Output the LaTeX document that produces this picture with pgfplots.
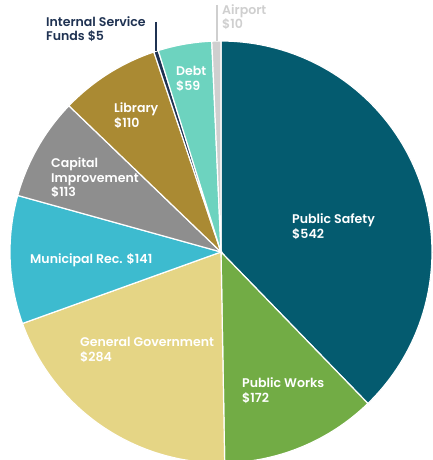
\documentclass[border=0pt]{standalone}
\usepackage{pgfplots}
\pgfplotsset{compat=1.18}
\usepackage{pgfplotstable}
\usepackage{fontspec}
\setmainfont{Poppins}[BoldFont={Poppins SemiBold}]
\definecolor{c0}{HTML}{045B6F}
\definecolor{c1}{HTML}{72AC45}
\definecolor{c2}{HTML}{E5D585}
\definecolor{c3}{HTML}{3DBBCF}
\definecolor{c4}{HTML}{8E8E8E}
\definecolor{c5}{HTML}{AA8A33}
\definecolor{c6}{HTML}{1F3252}
\definecolor{c7}{HTML}{6DD3BF}
\definecolor{c8}{HTML}{CFCFCF}
\pgfplotstableread{
name value
PublicSafety 542
PublicWorks 172
GeneralGovernment 284
MunicipalRec 141
CapitalImprovement 113
Library 110
InternalService 5
Debt 59
Airport 10
}\budget
\begin{document}
\begin{tikzpicture}
% cumulative angles (clockwise from 90 degrees)
\def\total{0}
\foreach \i in {0,...,8}{%
  \pgfplotstablegetelem{\i}{value}\of\budget
  \pgfmathsetmacro\newtot{\total+\pgfplotsretval}%
  \xdef\total{\newtot}%
}
\def\cum{0}
\foreach \i in {0,...,8}{%
  \pgfplotstablegetelem{\i}{value}\of\budget
  \pgfmathsetmacro\s{90-360*(\cum/\total)}%
  \pgfmathsetmacro\newcum{\cum+\pgfplotsretval}%
  \pgfmathsetmacro\e{90-360*(\newcum/\total)}%
  \expandafter\xdef\csname aS\i\endcsname{\s}%
  \expandafter\xdef\csname aE\i\endcsname{\e}%
  \xdef\cum{\newcum}%
}
\begin{axis}[
  x=1bp, y=1bp,
  xmin=-221, xmax=211, ymin=-208, ymax=252,
  hide axis,
  clip=true,
]
\path (axis cs:-221,-208) rectangle (axis cs:211,252);
\pgfplotsinvokeforeach{0,...,8}{
  \pgfmathsetmacro\tA{\csname aE#1\endcsname}
  \pgfmathsetmacro\tB{\csname aS#1\endcsname}
  \addplot[draw=white, line width=1.2bp, fill=c#1, domain=\tA:\tB, samples=90]
    ({211*cos(x)},{211*sin(x)}) -- (axis cs:0,0) -- cycle;
}
% leader lines
\draw[c6, line width=1.2bp] (axis cs:-65,230) -- (axis cs:-65,201);
\draw[c8, line width=1.2bp] (axis cs:-4,247) -- (axis cs:-4,211);
% labels
\tikzset{lab/.style={anchor=base west, inner sep=0pt, font=\fontsize{12.6}{14}\selectfont\bfseries, text=white}}
\node[lab] at (axis cs:71,28) {Public Safety};
\node[lab] at (axis cs:71,13) {\$542};
\node[lab] at (axis cs:21,-136) {Public Works};
\node[lab] at (axis cs:21,-151) {\$172};
\node[lab] at (axis cs:-141,-95) {General Government};
\node[lab] at (axis cs:-141,-110) {\$284};
\node[lab] at (axis cs:-191,-12) {Municipal Rec. \$141};
\node[lab] at (axis cs:-170,84) {Capital};
\node[lab] at (axis cs:-170,69) {Improvement};
\node[lab] at (axis cs:-170,55) {\$113};
\node[lab] at (axis cs:-107,139) {Library};
\node[lab] at (axis cs:-107,124) {\$110};
\node[lab] at (axis cs:-45,176) {Debt};
\node[lab] at (axis cs:-45,161) {\$59};
\node[lab, text=c6] at (axis cs:-175,225) {Internal Service};
\node[lab, text=c6] at (axis cs:-175,211) {Funds \$5};
\node[lab, text=c8] at (axis cs:1,237) {Airport};
\node[lab, text=c8] at (axis cs:1,223) {\$10};
\end{axis}
\end{tikzpicture}
\end{document}
